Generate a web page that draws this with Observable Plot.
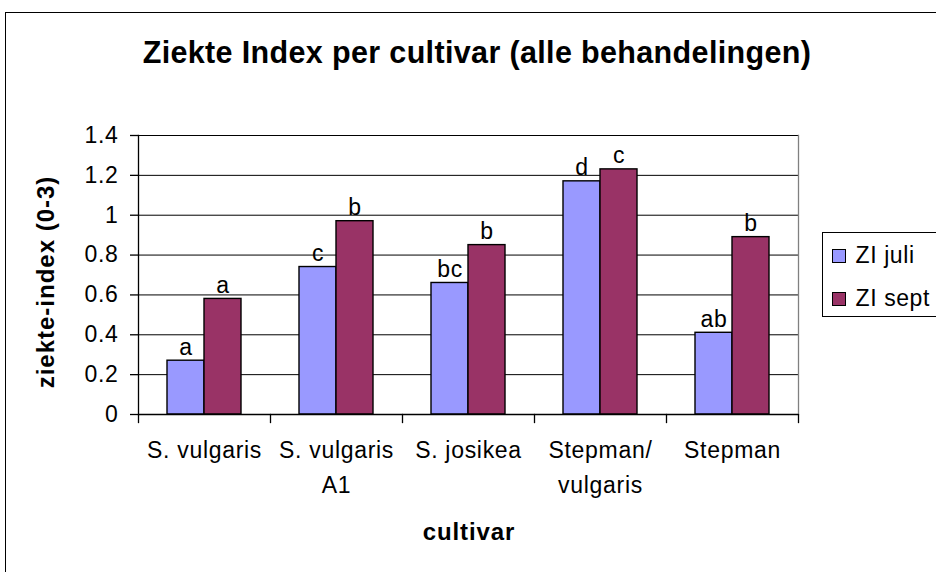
<!DOCTYPE html>
<html>
<head>
<meta charset="utf-8">
<script src="https://cdn.jsdelivr.net/npm/d3@7"></script>
<script src="https://cdn.jsdelivr.net/npm/@observablehq/plot@0.6"></script>
<style>
  html, body { margin: 0; padding: 0; background: #fff; }
  body { width: 936px; height: 572px; overflow: hidden; position: relative;
         font-family: "Liberation Sans", Arial, sans-serif; color: #000; }
  #chart { position: absolute; left: 0; top: 0; }
  .outer { position: absolute; left: 5px; top: 12px; width: 1000px; height: 1000px;
           border: 1.5px solid #000; box-sizing: border-box; pointer-events: none; }
  .title { position: absolute; left: 0; width: 954px; top: 37px; text-align: center;
           font-weight: bold; font-size: 30.5px; line-height: 30px; letter-spacing: 0.35px; white-space: nowrap; }
  .ylab { position: absolute; left: 46px; top: 281.5px; transform: translate(-50%, -50%) rotate(-90deg);
          font-weight: bold; font-size: 24px; line-height: 24px; letter-spacing: 1px; white-space: nowrap; }
  .xlab { position: absolute; left: 0; width: 938px; top: 520px; text-align: center;
          font-weight: bold; font-size: 24px; line-height: 24px; letter-spacing: 0.9px; white-space: nowrap; }
  .legend { position: absolute; left: 821.5px; top: 232px; width: 200px; height: 85px;
            border: 1px solid #000; box-sizing: border-box; }
  .sw { position: absolute; left: 9px; width: 14px; height: 14px; border: 1.5px solid #000; box-sizing: border-box; }
  .lt { position: absolute; left: 33px; font-size: 23px; line-height: 22px; letter-spacing: 0.6px; white-space: nowrap; }
</style>
</head>
<body>
<div id="chart"></div>
<div class="outer"></div>
<div class="title" id="title"></div>
<div class="ylab" id="ylab"></div>
<div class="xlab" id="xlab"></div>
<div class="legend" id="legend"></div>
<script>
// ---- data ----
const categories = ["S. vulgaris", "S. vulgaris\nA1", "S. josikea", "Stepman/\nvulgaris", "Stepman"];
const seriesNames = ["ZI juli", "ZI sept"];
const juliValues = [0.27, 0.74, 0.66, 1.17, 0.41];
const septValues = [0.58, 0.97, 0.85, 1.23, 0.89];
const juliLetters = ["a", "c", "bc", "d", "ab"];
const septLetters = ["a", "b", "b", "c", "b"];
const yTicks = [0, 0.2, 0.4, 0.6, 0.8, 1, 1.2, 1.4];
const seriesColors = ["#9999FF", "#993366"];
const titleText = "Ziekte Index per cultivar (alle behandelingen)";
const yLabelText = "ziekte-index (0-3)";
const xLabelText = "cultivar";

// ---- table built from arrays ----
const rows = [];
categories.forEach((c, i) => {
  rows.push({cultivar: c, series: seriesNames[0], value: juliValues[i], letter: juliLetters[i]});
  rows.push({cultivar: c, series: seriesNames[1], value: septValues[i], letter: septLetters[i]});
});

const W = 936, H = 572, mL = 136, mR = 136, mT = 135, mB = 158;
const plotH = H - mT - mB;
const fontStack = "'Liberation Sans', Arial, sans-serif";

const chart = Plot.plot({
  width: W, height: H,
  marginLeft: mL, marginRight: mR, marginTop: mT, marginBottom: mB,
  style: {fontFamily: fontStack, fontSize: "23px", color: "#000", background: "transparent", overflow: "visible"},
  fx: {domain: categories, padding: 0, axis: null},
  x: {domain: seriesNames, paddingInner: 0, paddingOuter: 0.75, axis: null},
  y: {domain: [0, 1.4], axis: null},
  color: {domain: seriesNames, range: seriesColors},
  marks: [
    Plot.gridY(yTicks, {stroke: "#000", strokeOpacity: 1, strokeWidth: 1}),
    Plot.frame({anchor: "left", facetAnchor: "left", stroke: "#000", strokeWidth: 1.3}),
    Plot.frame({anchor: "right", facetAnchor: "right", stroke: "#808080", strokeWidth: 1.3}),
    // category boundary ticks below the axis
    Plot.frame({anchor: "left", stroke: "#000", strokeWidth: 1.3, insetTop: plotH, insetBottom: -8}),
    Plot.frame({anchor: "right", facetAnchor: "right", stroke: "#000", strokeWidth: 1.3, insetTop: plotH, insetBottom: -8}),
    Plot.barY(rows, {fx: "cultivar", x: "series", y: "value", fill: "series", stroke: "#000", strokeWidth: 1.4}),
    Plot.ruleY([0], {stroke: "#000", strokeWidth: 1.3}),
    Plot.text(rows, {fx: "cultivar", x: "series", y: "value", text: "letter", lineAnchor: "bottom", dy: -6,
                     fontSize: 23}),
    Plot.text(categories, {fx: d => d, text: d => d, frameAnchor: "bottom", lineAnchor: "top", dy: 19,
                           lineHeight: 1.52, fontSize: 23}),
    Plot.axisY(yTicks, {anchor: "left", tickSize: 8, tickPadding: 12, tickFormat: d => String(d),
                        fontSize: 23, label: null, stroke: "#000", strokeWidth: 1.3})
  ]
});
chart.style.letterSpacing = "0.7px";
document.getElementById("chart").appendChild(chart);

document.getElementById("title").textContent = titleText;
document.getElementById("ylab").textContent = yLabelText;
document.getElementById("xlab").textContent = xLabelText;

const legend = document.getElementById("legend");
const swTops = [15.5, 58.5], txtTops = [11, 53.5];
seriesNames.forEach((s, i) => {
  const sw = document.createElement("div");
  sw.className = "sw"; sw.style.top = swTops[i] + "px"; sw.style.background = seriesColors[i];
  legend.appendChild(sw);
  const t = document.createElement("div");
  t.className = "lt"; t.style.top = txtTops[i] + "px"; t.textContent = s;
  legend.appendChild(t);
});
</script>
</body>
</html>
